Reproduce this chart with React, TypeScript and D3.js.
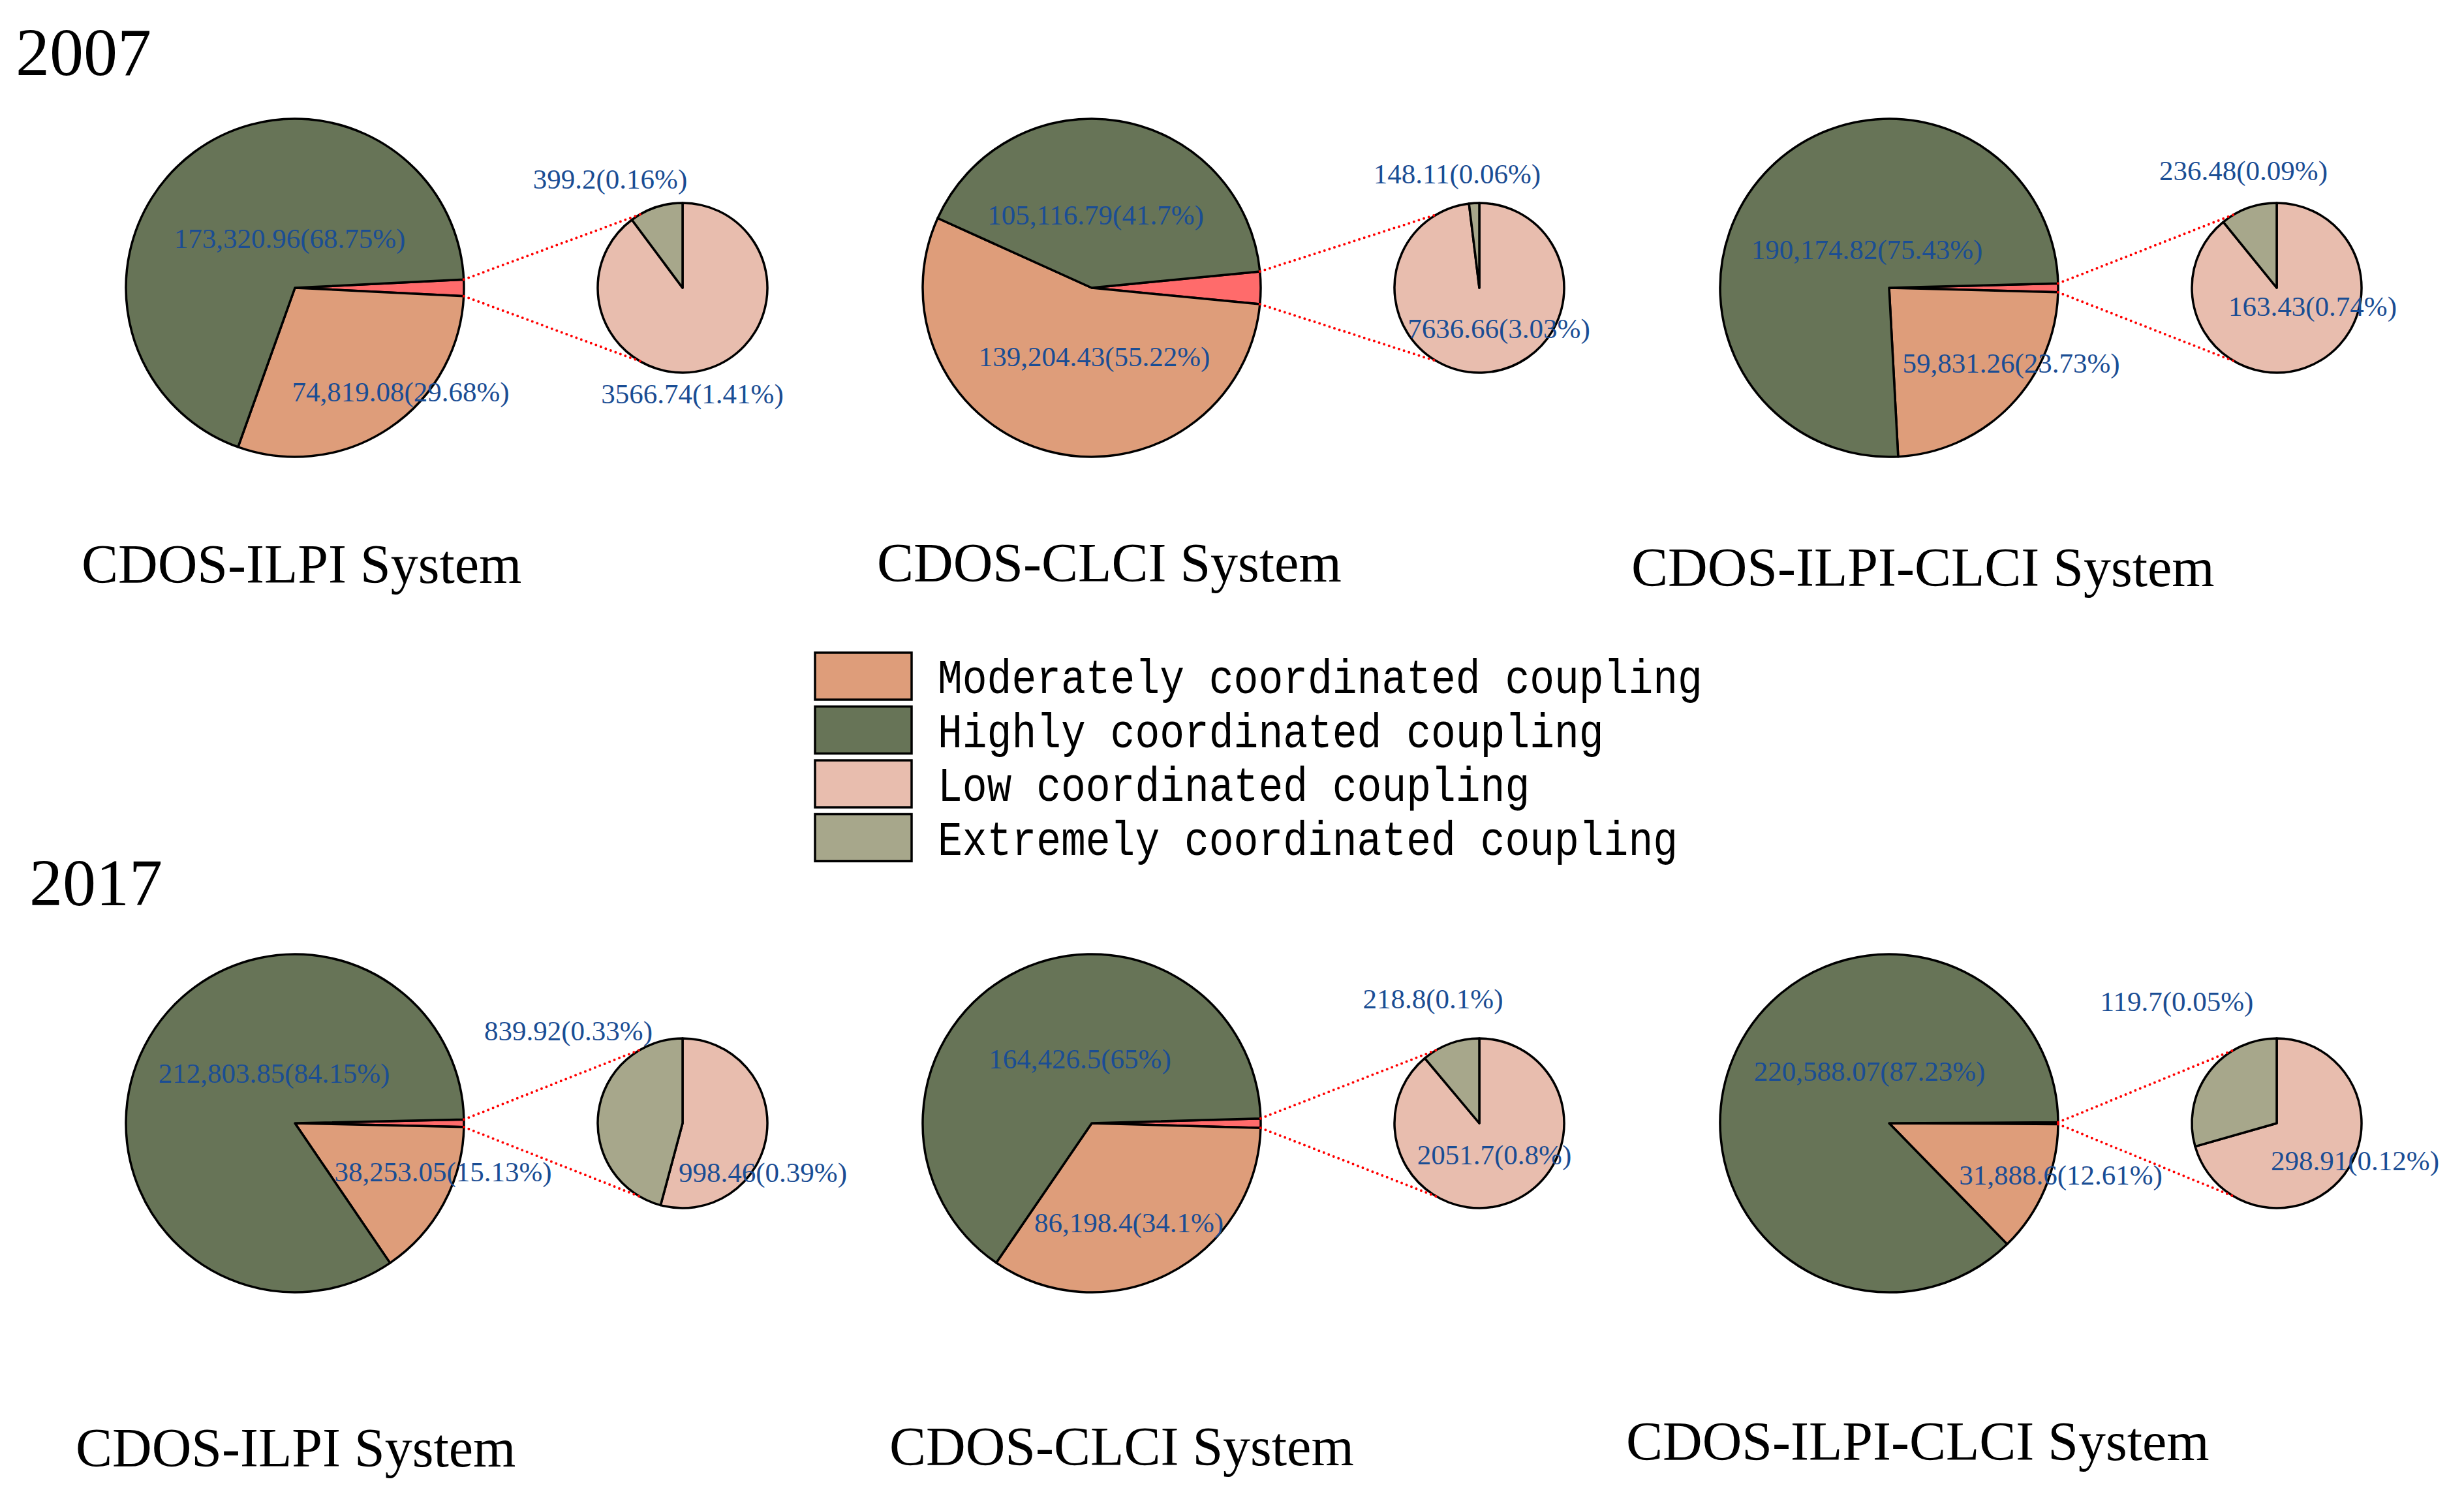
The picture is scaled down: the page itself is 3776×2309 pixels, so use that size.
import React from "react";
import * as d3 from "d3";

// ---------- DATA ----------
const YEARS = ["2007", "2017"];
const SYSTEMS = ["CDOS-ILPI System", "CDOS-CLCI System", "CDOS-ILPI-CLCI System"];
const CATEGORIES = [
  "Moderately coordinated coupling",
  "Highly coordinated coupling",
  "Low coordinated coupling",
  "Extremely coordinated coupling",
];
// panel order: 2007 ILPI, 2007 CLCI, 2007 ILPI-CLCI, 2017 ILPI, 2017 CLCI, 2017 ILPI-CLCI
const moderateValues = [74819.08, 139204.43, 59831.26, 38253.05, 86198.4, 31888.6];
const highlyValues = [173320.96, 105116.79, 190174.82, 212803.85, 164426.5, 220588.07];
const lowValues = [3566.74, 7636.66, 163.43, 998.46, 2051.7, 298.91];
const extremeValues = [399.2, 148.11, 236.48, 839.92, 218.8, 119.7];
const moderatePct = [29.68, 55.22, 23.73, 15.13, 34.1, 12.61];
const highlyPct = [68.75, 41.7, 75.43, 84.15, 65, 87.23];
const lowPct = [1.41, 3.03, 0.74, 0.39, 0.8, 0.12];
const extremePct = [0.16, 0.06, 0.09, 0.33, 0.1, 0.05];

// ---------- STYLE / LAYOUT ----------
const W = 3776;
const H = 2309;
const COLORS = {
  moderate: "#DE9D7A",
  highly: "#677457",
  low: "#E8BDAE",
  extreme: "#A7A78B",
  other: "#FF6B6B",
  label: "#1A4D94",
};
const LEGEND_COLORS = [COLORS.moderate, COLORS.highly, COLORS.low, COLORS.extreme];
const COL_X = [452, 1673, 2895];
const ROW_Y = [441, 1721];
const SMALL_DX = 594;
const R_BIG = 259;
const R_SMALL = 130;
const SERIF = "'Liberation Serif', 'Times New Roman', serif";
const MONO = "'Liberation Mono', 'Courier New', monospace";

// label offsets [high, moderate] rel. big centre; [extreme, low] rel. small centre (dx, baseline dy)
const LABEL_OFFSETS = [
  [[-8, -61], [162, 174], [-111, -152], [15, 177]],
  [[6, -97], [4, 120], [-34, -160], [30, 77]],
  [[-34, -44], [187, 130], [-51, -165], [55, 43]],
  [[-32, -62], [227, 89], [-175, -127], [123, 90]],
  [[-18, -84], [57, 167], [-71, -176], [23, 63]],
  [[-30, -65], [263, 94], [-153, -172], [120, 72]],
];
const YEAR_POS = [[24, 115, 104], [45, 1387, 102]];
const TITLE_POS = [
  [125, 893], [1344, 891], [2500, 898],
  [116, 2247], [1363, 2245], [2492, 2237],
];

const fmtBig = d3.format(",");

function Panel({ i }: { i: number }) {
  const row = Math.floor(i / 3);
  const col = i % 3;
  const cx = COL_X[col];
  const cy = ROW_Y[row];
  const sx = cx + SMALL_DX;
  const sy = cy;

  const other = lowPct[i] + extremePct[i];
  const total = other + moderatePct[i] + highlyPct[i];
  const start = Math.PI / 2 - (Math.PI * other) / total;
  const bigData = [
    { key: "other", v: other, color: COLORS.other },
    { key: "moderate", v: moderatePct[i], color: COLORS.moderate },
    { key: "highly", v: highlyPct[i], color: COLORS.highly },
  ];
  const bigArcs = d3
    .pie<any>()
    .sort(null)
    .value((d) => d.v)
    .startAngle(start)
    .endAngle(start + 2 * Math.PI)(bigData);
  const bigArc = d3.arc<any>().innerRadius(0).outerRadius(R_BIG);

  const smallData = [
    { key: "low", v: lowPct[i], color: COLORS.low },
    { key: "extreme", v: extremePct[i], color: COLORS.extreme },
  ];
  const smallArcs = d3.pie<any>().sort(null).value((d) => d.v)(smallData);
  const smallArc = d3.arc<any>().innerRadius(0).outerRadius(R_SMALL);

  const otherArc = bigArcs[0];
  const a0 = otherArc.startAngle;
  const a1 = otherArc.endAngle;
  const p0 = [cx + R_BIG * Math.sin(a0), cy - R_BIG * Math.cos(a0)];
  const p1 = [cx + R_BIG * Math.sin(a1), cy - R_BIG * Math.cos(a1)];
  const t = -Math.PI / 6;
  const q0 = [sx + R_SMALL * Math.sin(t), sy - R_SMALL * Math.cos(t)];
  const q1 = [sx + R_SMALL * Math.sin(Math.PI + Math.PI / 6), sy - R_SMALL * Math.cos(Math.PI + Math.PI / 6)];

  const off = LABEL_OFFSETS[i];
  const labels = [
    { x: cx + off[0][0], y: cy + off[0][1], text: `${fmtBig(highlyValues[i])}(${highlyPct[i]}%)` },
    { x: cx + off[1][0], y: cy + off[1][1], text: `${fmtBig(moderateValues[i])}(${moderatePct[i]}%)` },
    { x: sx + off[2][0], y: sy + off[2][1], text: `${extremeValues[i]}(${extremePct[i]}%)` },
    { x: sx + off[3][0], y: sy + off[3][1], text: `${lowValues[i]}(${lowPct[i]}%)` },
  ];

  return (
    <g>
      <g transform={`translate(${cx},${cy})`}>
        {bigArcs.map((a, k) => (
          <path key={k} d={bigArc(a) as string} fill={a.data.color} stroke="#000" strokeWidth={3.5} strokeLinejoin="round" />
        ))}
      </g>
      <g transform={`translate(${sx},${sy})`}>
        {smallArcs.map((a, k) => (
          <path key={k} d={smallArc(a) as string} fill={a.data.color} stroke="#000" strokeWidth={3.5} strokeLinejoin="round" />
        ))}
      </g>
      <line x1={p0[0]} y1={p0[1]} x2={q0[0]} y2={q0[1]} stroke="#FF0000" strokeWidth={4} strokeDasharray="0 8" strokeLinecap="round" />
      <line x1={p1[0]} y1={p1[1]} x2={q1[0]} y2={q1[1]} stroke="#FF0000" strokeWidth={4} strokeDasharray="0 8" strokeLinecap="round" />
      {labels.map((l, k) => (
        <text key={k} x={l.x} y={l.y} textAnchor="middle" fontFamily={SERIF} fontSize={43} fill={COLORS.label}>
          {l.text}
        </text>
      ))}
      <text x={TITLE_POS[i][0]} y={TITLE_POS[i][1]} fontFamily={SERIF} fontSize={84} fill="#000">
        {SYSTEMS[col]}
      </text>
    </g>
  );
}

export default function App() {
  const legendX = 1249;
  const legendY = 1000;
  const legendStep = 82.5;
  return (
    <svg
      width={W}
      height={H}
      viewBox={`0 0 ${W} ${H}`}
      style={{ position: "absolute", left: 0, top: 0, display: "block", background: "#fff" }}
    >
      <rect x={0} y={0} width={W} height={H} fill="#fff" />
      {YEARS.map((y, k) => (
        <text key={y} x={YEAR_POS[k][0]} y={YEAR_POS[k][1]} fontFamily={SERIF} fontSize={YEAR_POS[k][2]} fill="#000">
          {y}
        </text>
      ))}
      {d3.range(6).map((i) => (
        <Panel key={i} i={i} />
      ))}
      <g>
        {CATEGORIES.map((c, k) => (
          <g key={c}>
            <rect
              x={legendX}
              y={legendY + k * legendStep}
              width={148}
              height={72}
              fill={LEGEND_COLORS[k]}
              stroke="#000"
              strokeWidth={3.5}
            />
            <text
              x={1437}
              y={legendY + k * legendStep + 62}
              fontFamily={MONO}
              fontSize={74}
              fill="#000"
              textLength={c.length * 37.8}
              lengthAdjust="spacingAndGlyphs"
            >
              {c}
            </text>
          </g>
        ))}
      </g>
    </svg>
  );
}
